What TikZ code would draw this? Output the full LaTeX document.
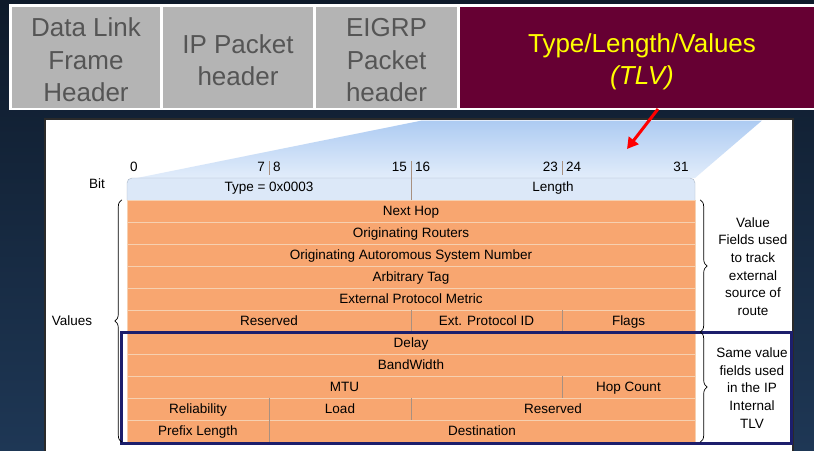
\documentclass[tikz,border=0pt]{standalone}
\usepackage{fontspec}
\setmainfont{Liberation Sans}
\usetikzlibrary{arrows.meta,decorations.pathreplacing}
\definecolor{bgtop}{HTML}{0E1A2A}
\definecolor{bgbottom}{HTML}{1E3755}
\definecolor{hdrgray}{HTML}{B4B4B4}
\definecolor{hdrtext}{HTML}{555555}
\definecolor{tlvred}{HTML}{660033}
\definecolor{tlvyellow}{HTML}{FFFF00}
\definecolor{roworange}{HTML}{F8A670}
\definecolor{rowline}{HTML}{F6D0B0}
\definecolor{colline}{HTML}{A89080}
\definecolor{hdrblue}{HTML}{DCE8F8}
\definecolor{hdrline}{HTML}{A8B4C4}
\definecolor{wedgetop}{HTML}{ADCBF2}
\definecolor{wedgebottom}{HTML}{E4EEFB}
\definecolor{navyframe}{HTML}{1C1E6C}
\definecolor{panelline}{HTML}{2A2A2A}
\newcommand{\hdrlift}[1]{\rule{0pt}{#1}}

\begin{document}
\begin{tikzpicture}[x=1pt,y=-1pt,
  hdrbox/.style={fill=hdrgray, text=hdrtext, align=center, inner sep=0pt,
    minimum height=101pt, font=\fontsize{26}{32.5}\selectfont},
  cell/.style={draw=rowline, fill=roworange, inner sep=0pt, minimum height=22pt,
    text height=9.6pt, text depth=0pt, font=\fontsize{13.5}{15}\selectfont},
  small/.style={inner sep=0pt, font=\fontsize{13.5}{15}\selectfont},
  note/.style={inner sep=0pt, align=center, font=\fontsize{13.5}{17.7}\selectfont},
  tick/.style={draw=colline, line width=0.6pt},
  vbrace/.style={decorate, decoration={brace, amplitude=7pt, raise=5pt}, line width=0.7pt},
  redarrow/.style={draw=red, line width=3pt, -{Triangle[length=11pt,width=12pt]}}]
  \useasboundingbox (0,0) rectangle (814,450);
  \clip (0,0) rectangle (814,450);
  \shade[top color=bgtop, bottom color=bgbottom] (0,0) rectangle (814,450);

  \fill[white] (9,4) rectangle (830,110);
  \node[hdrbox, minimum width=148pt] (dlheader) at (86,57.5)
    {\hdrlift{23.5pt}Data Link\\Frame\\Header};
  \node[hdrbox, minimum width=150pt] (ipheader) at (238,57.5)
    {\hdrlift{24pt}IP Packet\\header};
  \node[hdrbox, minimum width=141pt] (eigrpheader) at (386.5,57.5)
    {\hdrlift{23.5pt}EIGRP\\Packet\\header};
  \node[hdrbox, fill=tlvred, text=tlvyellow, minimum width=364pt] (tlv) at (642,57.5)
    {\hdrlift{27.5pt}Type/Length/Values\\\textit{(TLV)}};

  \draw[panelline, fill=white, line width=2.5pt] (45,119) rectangle (793,470);
  \shade[top color=wedgetop, bottom color=wedgebottom]
    (127,180) -- (422,120.5) -- (762,120.5) -- (695,178) -- cycle;

  \filldraw[fill=hdrblue, draw=hdrline, rounded corners=5pt]
    (127,200) -- (127,178) -- (695,178) -- (695,200);
  \node[small] (type) at (269,188) {Type = 0x0003};
  \node[small] (length) at (553,188) {Length};
  \draw[tick] (411,161) -- (411,200);
  \draw[tick] (269,161) -- (269,175);
  \draw[tick] (562,161) -- (562,175);

  \node[small] (bit) at (97,184) {Bit};
  \node[small] (b0) at (134,167) {0};
  \node[small, anchor=east] (b7) at (265,167) {7};
  \node[small, anchor=west] (b8) at (273,167) {8};
  \node[small, anchor=east] (b15) at (407,167) {15};
  \node[small, anchor=west] (b16) at (415,167) {16};
  \node[small, anchor=east] (b23) at (558,167) {23};
  \node[small, anchor=west] (b24) at (566,167) {24};
  \node[small] (b31) at (681,167) {31};

  \node[cell, minimum width=568pt] (nexthop) at (411,211) {Next Hop};
  \node[cell, minimum width=568pt] (origrouters) at (411,233) {Originating Routers};
  \node[cell, minimum width=568pt] (origasn) at (411,255) {Originating Autoromous System Number};
  \node[cell, minimum width=568pt] (arbtag) at (411,277) {Arbitrary Tag};
  \node[cell, minimum width=568pt] (extmetric) at (411,299) {External Protocol Metric};
  \node[cell, minimum width=284pt] (reserveda) at (269,321) {Reserved};
  \node[cell, minimum width=151pt] (extid) at (486.5,321) {Ext. Protocol ID};
  \node[cell, minimum width=133pt] (flags) at (628.5,321) {Flags};
  \node[cell, minimum width=568pt] (delay) at (411,343) {Delay};
  \node[cell, minimum width=568pt] (bandwidth) at (411,365) {BandWidth};
  \node[cell, minimum width=435pt] (mtu) at (344.5,387) {MTU};
  \node[cell, minimum width=133pt] (hopcount) at (628.5,387) {Hop Count};
  \node[cell, minimum width=142pt] (reliability) at (198,409) {Reliability};
  \node[cell, minimum width=142pt] (load) at (340,409) {Load};
  \node[cell, minimum width=284pt] (reservedb) at (553,409) {Reserved};
  \node[cell, minimum width=142pt] (prefixlen) at (198,431) {Prefix Length};
  \node[cell, minimum width=426pt] (destination) at (482,431) {Destination};
  \draw[tick] (reserveda.north east) -- (reserveda.south east);
  \draw[tick] (extid.north east) -- (extid.south east);
  \draw[tick] (mtu.north east) -- (mtu.south east);
  \draw[tick] (reliability.north east) -- (reliability.south east);
  \draw[tick] (load.north east) -- (load.south east);
  \draw[tick] (prefixlen.north east) -- (prefixlen.south east);

  \draw[navyframe, line width=3pt] (121,332.5) rectangle (791,443.5);

  \draw[vbrace] (nexthop.north east) -- (flags.south east);
  \draw[vbrace] (delay.north east) -- (destination.south east);
  \draw[vbrace] (prefixlen.south west) -- (nexthop.north west);
  \node[small] (values) at (72,321) {Values};
  \node[note] (extnote) at (753,266.5) {Value\\Fields used\\to track\\external\\source of\\route};
  \node[note] (samenote) at (752,388) {Same value\\fields used\\in the IP\\Internal\\TLV};

  \coordinate (arrowtail) at (658,109);
  \coordinate (arrowhead) at (627,149);
  \draw[redarrow] (arrowtail) -- (arrowhead);
\end{tikzpicture}
\end{document}
